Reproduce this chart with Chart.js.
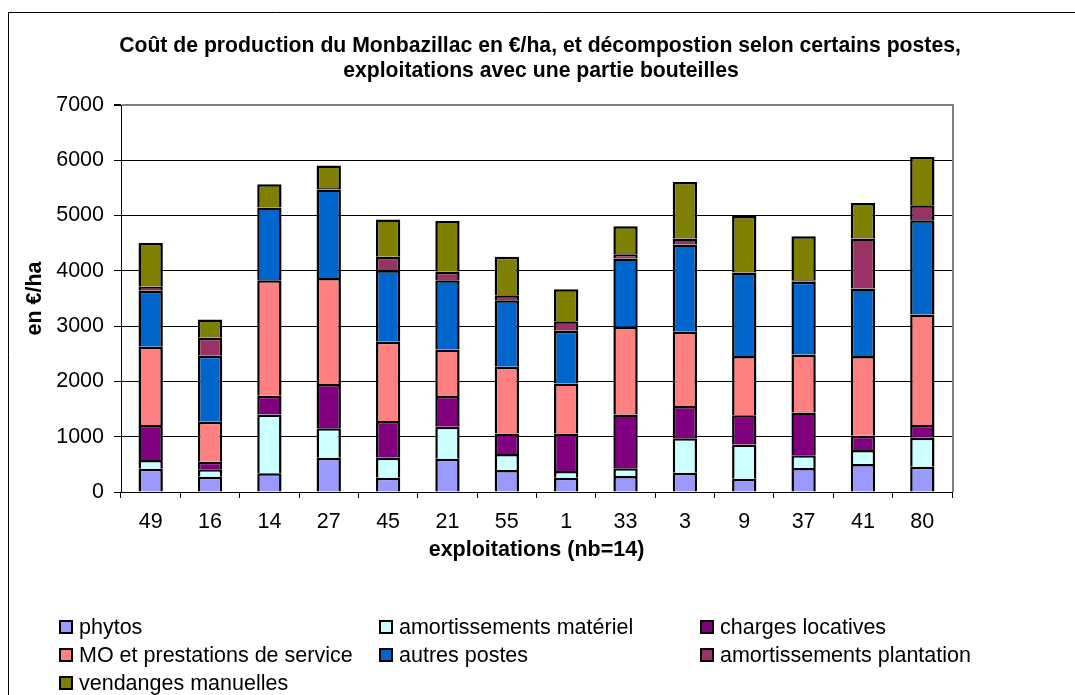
<!DOCTYPE html>
<html><head><meta charset="utf-8">
<script src="https://cdn.jsdelivr.net/npm/chart.js@4.4.0/dist/chart.umd.min.js"></script>
<style>html,body{margin:0;padding:0;background:#fff;} canvas{display:block;}</style>
</head><body>
<canvas id="c" width="1075" height="695"></canvas>
<script>
const categories = ['49','16','14','27','45','21','55','1','33','3','9','37','41','80'];
const phytos           = [422, 277, 337, 620, 259, 602, 398, 259, 289, 349, 241, 434, 506, 458];
const amortMateriel    = [156, 133, 1067, 531, 361, 579, 289, 121, 139, 621, 620, 229, 253, 524];
const chargesLocatives = [633, 138, 337, 801, 663, 554, 373, 680, 976, 584, 525, 777, 259, 229];
const moPrestations    = [1416, 723, 2090, 1921, 1434, 843, 1205, 904, 1584, 1344, 1072, 1048, 1440, 2000];
const autresPostes     = [1012, 1193, 1314, 1597, 1295, 1253, 1205, 952, 1235, 1578, 1512, 1313, 1223, 1705];
const amortPlantation  = [72, 325, 0, 30, 241, 151, 90, 174, 78, 108, 0, 30, 903, 271];
const vendanges        = [795, 331, 421, 404, 675, 922, 693, 579, 506, 1024, 1024, 796, 645, 873];
const seriesNames = ['phytos','amortissements matériel','charges locatives','MO et prestations de service','autres postes','amortissements plantation','vendanges manuelles'];
const seriesColors = ['#9999FF','#CCFFFF','#800080','#FF8080','#0066CC','#993366','#808000'];
const yTicks = [0,1000,2000,3000,4000,5000,6000,7000];
const titleLines = ['Coût de production du Monbazillac en €/ha, et décompostion selon certains postes,','exploitations avec une partie bouteilles'];
const xTitle = 'exploitations (nb=14)';
const yTitle = 'en €/ha';

const FONT = "'Liberation Sans', Arial, sans-serif";
const FS = 21.5;
const seriesData = [phytos, amortMateriel, chargesLocatives, moPrestations, autresPostes, amortPlantation, vendanges];

const decor = {
  id: 'decor',
  afterDraw(chart) {
    const ctx = chart.ctx;
    const a = chart.chartArea;
    ctx.save();
    ctx.strokeStyle = '#000'; ctx.lineWidth = 1;
    ctx.beginPath(); ctx.moveTo(8.5, 720); ctx.lineTo(8.5, 12.5); ctx.lineTo(1100, 12.5); ctx.stroke();
    ctx.strokeStyle = '#808080'; ctx.lineWidth = 2;
    ctx.beginPath(); ctx.moveTo(a.right + 1, a.top - 1); ctx.lineTo(a.right + 1, a.bottom); ctx.stroke();
    ctx.fillStyle = '#000'; ctx.textAlign = 'center'; ctx.textBaseline = 'middle';
    ctx.font = 'bold 21.2px ' + FONT;
    ctx.fillText(titleLines[0], 540, 46);
    ctx.fillText(titleLines[1], 541, 71);
    ctx.font = 'bold ' + FS + 'px ' + FONT;
    ctx.fillText(xTitle, (a.left + a.right) / 2, 550);
    ctx.save();
    ctx.translate(35, (a.top + a.bottom) / 2);
    ctx.rotate(-Math.PI / 2);
    ctx.fillText(yTitle, 0, 0);
    ctx.restore();
    ctx.font = FS + 'px ' + FONT;
    ctx.textAlign = 'left';
    const colX = [59, 379, 700];
    const rowY = [627, 655, 683];
    seriesNames.forEach((name, i) => {
      const x = colX[i % 3], y = rowY[Math.floor(i / 3)];
      ctx.fillStyle = seriesColors[i];
      ctx.fillRect(x, y - 7, 14, 14);
      ctx.strokeStyle = '#000'; ctx.lineWidth = 2;
      ctx.strokeRect(x + 1, y - 6, 12, 12);
      ctx.fillStyle = '#000';
      ctx.fillText(name, x + 20, y + 1);
    });
    ctx.restore();
  }
};

new Chart(document.getElementById('c'), {
  type: 'bar',
  data: {
    labels: categories,
    datasets: seriesData.map((d, i) => ({
      label: seriesNames[i],
      data: d,
      backgroundColor: seriesColors[i],
      borderColor: '#000',
      borderWidth: 2.5,
      categoryPercentage: 1,
      barPercentage: 0.41
    }))
  },
  options: {
    responsive: false,
    animation: false,
    events: [],
    layout: { padding: { left: 0, top: 105, right: 123, bottom: 143 } },
    plugins: { legend: { display: false }, title: { display: false }, tooltip: { enabled: false } },
    scales: {
      x: {
        stacked: true,
        afterFit(s) { s.height = 60; },
        grid: { drawOnChartArea: false, offset: true, color: '#000', tickLength: 6 },
        border: { color: '#000', width: 1 },
        ticks: { color: '#000', font: { family: FONT, size: FS }, padding: 11, maxRotation: 0, autoSkip: false }
      },
      y: {
        stacked: true,
        min: 0, max: 7000,
        afterFit(s) { s.width = 121; },
        afterBuildTicks(s) { s.ticks = yTicks.map(v => ({ value: v })); },
        grid: {
          color: c => (c.tick && c.tick.value === 7000) ? '#808080' : '#000',
          lineWidth: c => (c.tick && c.tick.value === 7000) ? 2 : 1,
          tickColor: '#000',
          tickLength: 7
        },
        border: { color: '#000', width: 1 },
        ticks: { color: '#000', font: { family: FONT, size: FS }, padding: 10, callback: v => String(v) }
      }
    }
  },
  plugins: [decor]
});
</script>
</body></html>
